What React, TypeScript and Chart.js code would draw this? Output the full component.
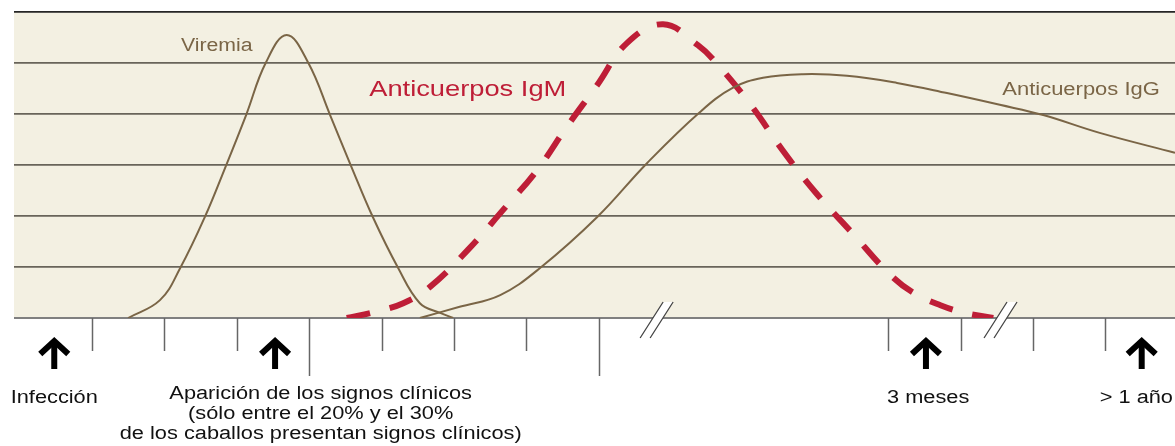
import { useEffect, useRef } from 'react';
import { Chart, registerables } from 'chart.js';

Chart.register(...registerables);

// ---- data (x in time units along the axis, y in grid units) ----
const viremiaX = [1.5, 1.94, 2.22, 2.56, 2.85, 3.13, 3.4, 3.69, 3.99, 4.29, 4.58, 4.88, 5.23, 5.53, 5.81, 5.99];
const viremiaY = [0, 0.35, 0.98, 1.98, 2.98, 3.98, 5.0, 5.55, 5.0, 3.98, 2.98, 1.98, 0.98, 0.29, 0.1, 0];

const igmX = [4.52, 4.91, 5.3, 5.67, 6.19, 6.68, 7.15, 7.56, 7.98, 8.39, 8.89, 9.37, 9.65, 10.12, 10.54, 10.99, 11.5, 11.99, 12.33, 12.72, 13.06, 13.45];
const igmY = [0, 0.12, 0.29, 0.61, 1.33, 2.12, 2.9, 3.75, 4.57, 5.39, 5.76, 5.35, 4.96, 4.14, 3.29, 2.47, 1.67, 0.9, 0.51, 0.25, 0.1, 0];

const iggX = [5.53, 6.08, 6.64, 7.19, 7.98, 8.67, 9.4, 9.85, 10.27, 10.82, 11.43, 12.12, 12.81, 13.54, 14.14, 14.92, 15.96];
const iggY = [0, 0.22, 0.45, 0.98, 1.98, 3.04, 4.04, 4.51, 4.71, 4.78, 4.75, 4.61, 4.41, 4.18, 3.98, 3.63, 3.24];

const shortTicks = [1, 2, 3, 5, 6, 7, 12, 13, 14, 15];
const longTicks = [4, 8];
const breakPositions = [8.8, 13.55];
const arrowPositions = [0.48, 3.53, 12.52, 15.5];

const seriesLabels = ['Viremia', 'Anticuerpos IgM', 'Anticuerpos IgG'];
const infeccionLabel = 'Infección';
const aparicionLines = [
  'Aparición de los signos clínicos',
  '(sólo entre el 20% y el 30%',
  'de los caballos presentan signos clínicos)',
];
const mesesLabel = '3 meses';
const anoLabel = '> 1 año';

const X_MIN = -0.076;
const X_MAX = 15.96;

const BROWN = '#7A6546';
const RED = '#BE1E37';
const FONT = '"Liberation Sans", Arial, Helvetica, sans-serif';

function zip(xs: number[], ys: number[]) {
  return xs.map((x, i) => ({ x, y: ys[i] }));
}

function stretchText(
  ctx: CanvasRenderingContext2D,
  s: string,
  x: number,
  y: number,
  size: number,
  color: string,
  align: 'left' | 'center' | 'right',
  sx = 1.21
) {
  ctx.save();
  ctx.font = `${size}px ${FONT}`;
  ctx.fillStyle = color;
  ctx.textBaseline = 'alphabetic';
  ctx.textAlign = 'left';
  const w = ctx.measureText(s).width * sx;
  const left = align === 'center' ? x - w / 2 : align === 'right' ? x - w : x;
  ctx.translate(left, y);
  ctx.scale(sx, 1);
  ctx.fillText(s, 0, 0);
  ctx.restore();
}

const decorPlugin = {
  id: 'decor',
  beforeDraw(chart: any) {
    const { ctx, chartArea: a } = chart;
    ctx.save();
    ctx.fillStyle = '#F3F0E2';
    ctx.fillRect(a.left, a.top, a.right - a.left, a.bottom - a.top);
    ctx.restore();
  },
  afterDatasetsDraw(chart: any) {
    const { ctx, chartArea: a } = chart;
    const xs = chart.scales.x;
    const ys = chart.scales.y;
    const px = (v: number) => xs.getPixelForValue(v);
    const py = (v: number) => ys.getPixelForValue(v);
    const base = a.bottom;

    // series labels
    stretchText(ctx, seriesLabels[0], px(2.23), py(5.24), 18, BROWN, 'left', 1.18);
    stretchText(ctx, seriesLabels[1], px(4.83), py(4.35), 22, RED, 'left', 1.24);
    stretchText(ctx, seriesLabels[2], px(15.75), py(4.37), 18, BROWN, 'right', 1.22);

    // tick marks below the axis
    ctx.save();
    ctx.strokeStyle = '#666666';
    ctx.lineWidth = 1.5;
    shortTicks.forEach((t) => {
      const x = Math.round(px(t)) + 0.5;
      ctx.beginPath();
      ctx.moveTo(x, base);
      ctx.lineTo(x, base + 33);
      ctx.stroke();
    });
    longTicks.forEach((t) => {
      const x = Math.round(px(t)) + 0.5;
      ctx.beginPath();
      ctx.moveTo(x, base);
      ctx.lineTo(x, base + 58);
      ctx.stroke();
    });
    ctx.restore();

    // axis breaks
    breakPositions.forEach((b) => {
      const cx = px(b);
      const cy = base + 2;
      ctx.save();
      ctx.fillStyle = '#ffffff';
      ctx.beginPath();
      ctx.moveTo(cx - 16.5, cy + 18);
      ctx.lineTo(cx + 6.5, cy - 18);
      ctx.lineTo(cx + 16.5, cy - 18);
      ctx.lineTo(cx - 6.5, cy + 18);
      ctx.closePath();
      ctx.fill();
      ctx.strokeStyle = '#444444';
      ctx.lineWidth = 1.3;
      ctx.beginPath();
      ctx.moveTo(cx - 16.5, cy + 18);
      ctx.lineTo(cx + 6.5, cy - 18);
      ctx.moveTo(cx - 6.5, cy + 18);
      ctx.lineTo(cx + 16.5, cy - 18);
      ctx.stroke();
      ctx.restore();
    });

    // arrows
    arrowPositions.forEach((p) => {
      const cx = px(p);
      ctx.save();
      ctx.strokeStyle = '#000000';
      ctx.lineWidth = 6;
      ctx.lineCap = 'butt';
      ctx.lineJoin = 'miter';
      ctx.beginPath();
      ctx.moveTo(cx, base + 51);
      ctx.lineTo(cx, base + 24);
      ctx.stroke();
      ctx.beginPath();
      ctx.moveTo(cx - 14, base + 36);
      ctx.lineTo(cx, base + 23);
      ctx.lineTo(cx + 14, base + 36);
      ctx.stroke();
      ctx.restore();
    });

    // bottom labels
    stretchText(ctx, infeccionLabel, px(0.48), base + 85, 18, '#111111', 'center');
    aparicionLines.forEach((line, i) => {
      stretchText(ctx, line, px(4.16), base + 81 + i * 20, 18, '#111111', 'center');
    });
    stretchText(ctx, mesesLabel, px(12.55), base + 85, 18, '#111111', 'center');
    stretchText(ctx, anoLabel, px(14.92), base + 85, 18, '#111111', 'left');
  },
};

export default function App() {
  const ref = useRef<HTMLCanvasElement | null>(null);

  useEffect(() => {
    if (!ref.current) return;
    const chart = new Chart(ref.current, {
      type: 'line',
      data: {
        datasets: [
          {
            label: seriesLabels[0],
            data: zip(viremiaX, viremiaY),
            borderColor: BROWN,
            borderWidth: 2,
            pointRadius: 0,
            tension: 0.4,
            order: 1,
          },
          {
            label: seriesLabels[2],
            data: zip(iggX, iggY),
            borderColor: BROWN,
            borderWidth: 2,
            pointRadius: 0,
            tension: 0.4,
            order: 1,
          },
          {
            label: seriesLabels[1],
            data: zip(igmX, igmY),
            borderColor: RED,
            borderWidth: 6,
            borderDash: [24, 20],
            borderCapStyle: 'butt',
            pointRadius: 0,
            tension: 0.4,
            order: 2,
          },
        ],
      } as any,
      options: {
        animation: false,
        responsive: false,
        events: [],
        layout: { padding: { left: 14, top: 12, right: 0, bottom: 128 } },
        plugins: { legend: { display: false }, tooltip: { enabled: false } },
        scales: {
          x: { type: 'linear', min: X_MIN, max: X_MAX, display: false },
          y: {
            type: 'linear',
            min: 0,
            max: 6,
            ticks: { display: false, stepSize: 1 },
            border: { display: false },
            grid: {
              drawTicks: false,
              color: (c: any) =>
                c.tick.value === 6 ? '#262626' : c.tick.value === 0 ? '#808080' : '#68645a',
              lineWidth: (c: any) => (c.tick.value === 0 ? 2 : 1.8),
            },
            afterFit: (s: any) => {
              s.width = 0;
            },
          },
        },
      } as any,
      plugins: [decorPlugin],
    });
    return () => chart.destroy();
  }, []);

  return (
    <div style={{ position: 'absolute', left: 0, top: 0, width: 1175, height: 446, background: '#ffffff' }}>
      <canvas ref={ref} width={1175} height={446} style={{ display: 'block' }} />
    </div>
  );
}
